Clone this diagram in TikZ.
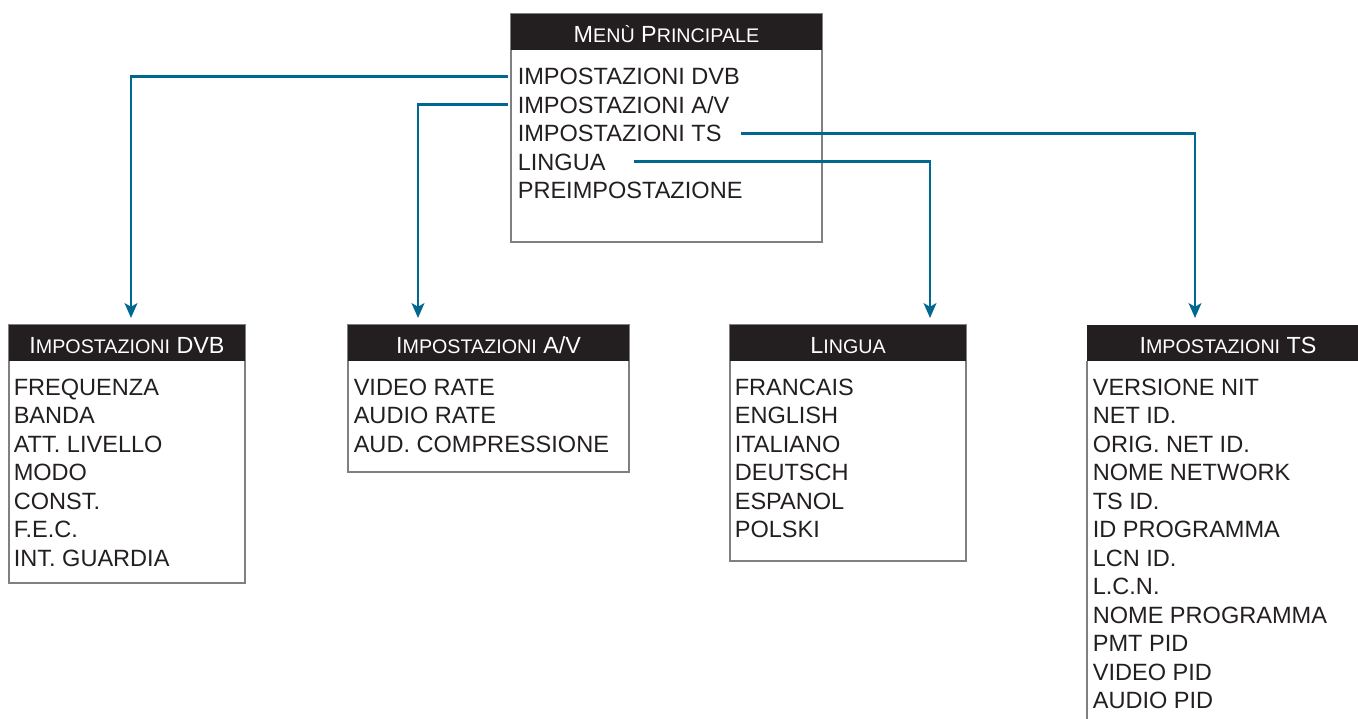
\documentclass[tikz,border=0pt]{standalone}
\usepackage{fontspec}
\setmainfont{Liberation Sans}
\usetikzlibrary{calc,arrows.meta}
\definecolor{menublue}{RGB}{0,104,144}
\definecolor{menuhead}{RGB}{35,31,32}
\definecolor{menuframe}{RGB}{128,128,128}
\newcommand{\hcap}[2]{#1{\fontsize{14}{16}\selectfont #2}}
\begin{document}
\begin{tikzpicture}[x=0.025cm, y=-0.025cm,
    frame/.style={draw=menuframe, line width=0.8pt},
    headbar/.style={fill=menuhead},
    headtext/.style={text=white, font=\fontsize{16.6}{18}\selectfont, inner sep=0pt, anchor=base},
    item/.style={text=menuhead, font=\fontsize{16.75}{19}\selectfont, inner sep=0pt, anchor=base west, text depth=0pt},
    link/.style={draw=menublue, line width=2.1pt, -{Stealth[length=10.5pt, width=9pt, inset=2.5pt]}}]
        \useasboundingbox (0,0) rectangle (1358,718);
        \clip (0,0) rectangle (1358,718);
        % main menu
        \draw[frame] (511,14) rectangle (822,242);
        \fill[headbar] (511,14) rectangle (822,50);
        \node[headtext] (main-head) at (666.5,42) {\hcap{M}{ENÙ} \hcap{P}{RINCIPALE}};
        \foreach \name/\txt [count=\i from 0] in {dvb/{IMPOSTAZIONI DVB}, av/{IMPOSTAZIONI A/V},
            ts/{IMPOSTAZIONI TS}, lingua/{LINGUA}, preset/{PREIMPOSTAZIONE}}
            \node[item] (m-\name) at (517.5, 84.5+28.5*\i) {\txt};
        % dvb settings
        \draw[frame] (9,325) rectangle (245,583);
        \fill[headbar] (9,325) rectangle (245,361);
        \node[headtext] (dvb-head) at (127,353) {\hcap{I}{MPOSTAZIONI} DVB};
        \foreach \txt [count=\i from 0] in {FREQUENZA, BANDA, ATT. LIVELLO, MODO, CONST., F.E.C., INT. GUARDIA}
            \node[item] (dvb-\i) at (13.5, 395+28.5*\i) {\txt};
        % a/v settings
        \draw[frame] (348,325) rectangle (629,472);
        \fill[headbar] (348,325) rectangle (629,361);
        \node[headtext] (av-head) at (488.5,353) {\hcap{I}{MPOSTAZIONI} A/V};
        \foreach \txt [count=\i from 0] in {VIDEO RATE, AUDIO RATE, AUD. COMPRESSIONE}
            \node[item] (av-\i) at (353.5, 395+28.5*\i) {\txt};
        % language
        \draw[frame] (730,325) rectangle (966,561);
        \fill[headbar] (730,325) rectangle (966,361);
        \node[headtext] (lingua-head) at (848,353) {\hcap{L}{INGUA}};
        \foreach \txt [count=\i from 0] in {FRANCAIS, ENGLISH, ITALIANO, DEUTSCH, ESPANOL, POLSKI}
            \node[item] (lingua-\i) at (734.5, 395+28.5*\i) {\txt};
        % ts settings
        \draw[frame] (1087,361) -- (1087,730);
        \fill[headbar] (1087,325) rectangle (1370,361);
        \node[headtext] (ts-head) at (1228,353) {\hcap{I}{MPOSTAZIONI} TS};
        \foreach \txt [count=\i from 0] in {VERSIONE NIT, NET ID., ORIG. NET ID., NOME NETWORK, TS ID.,
            ID PROGRAMMA, LCN ID., L.C.N., NOME PROGRAMMA, PMT PID, VIDEO PID, AUDIO PID}
            \node[item] (ts-\i) at (1092.5, 395+28.5*\i) {\txt};
        % links
        \coordinate (dvb-in) at (131,318);
        \coordinate (av-in) at (418,318);
        \coordinate (lingua-in) at (930,318);
        \coordinate (ts-in) at (1195,318);
        \draw[link] ($(m-dvb.west)+(-10,0)$) -| (dvb-in);
        \draw[link] ($(m-av.west)+(-10,0)$) -| (av-in);
        \draw[link] ($(m-ts.east)+(19,0)$) -| (ts-in);
        \draw[link] ($(m-lingua.east)+(28,0)$) -| (lingua-in);
\end{tikzpicture}
\end{document}
